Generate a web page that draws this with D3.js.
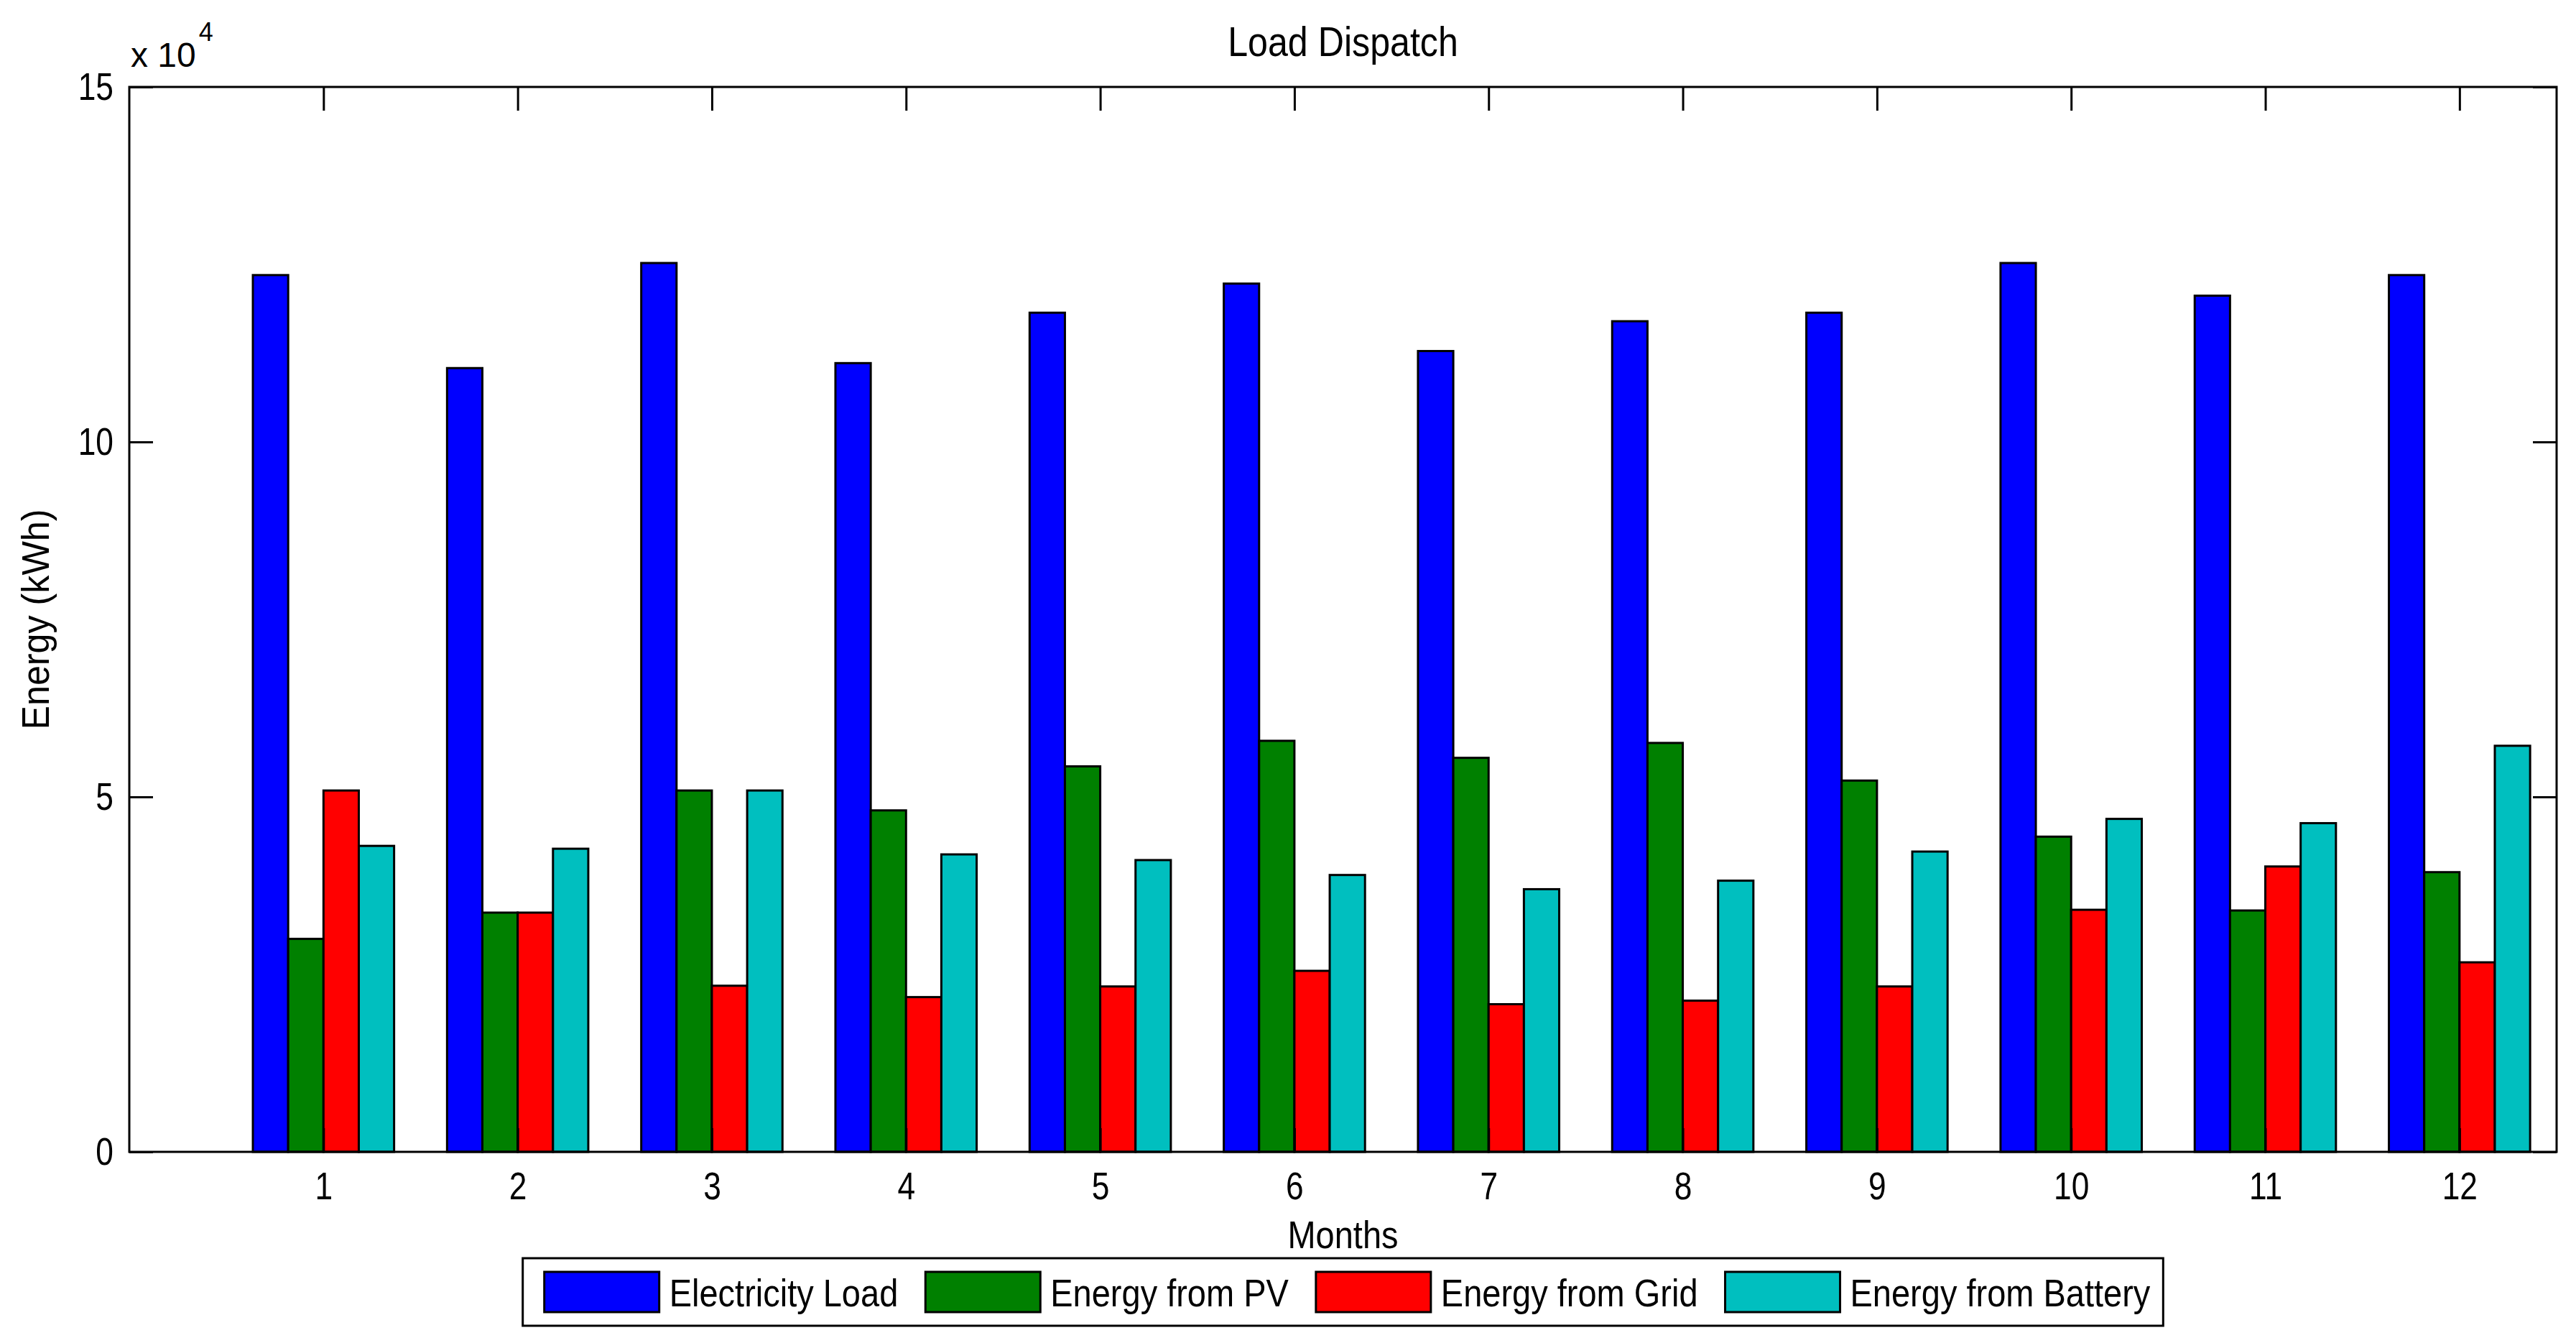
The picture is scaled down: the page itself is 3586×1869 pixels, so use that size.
<!DOCTYPE html>
<html>
<head>
<meta charset="utf-8">
<script src="https://cdn.jsdelivr.net/npm/d3@7"></script>
<style>
body { margin: 0; background: #fff; }
svg { display: block; background: #fff; }
text { font-family: "Liberation Sans", Arial, sans-serif; fill: #000; }
</style>
</head>
<body>
<svg id="chart"></svg>
<script>
const size = {w: 3586, h: 1869};
const margin = {t: 121, r: 27, b: 266, l: 180};

// data (kWh)
const months = [1, 2, 3, 4, 5, 6, 7, 8, 9, 10, 11, 12];
const seriesNames = ['Electricity Load', 'Energy from PV', 'Energy from Grid', 'Energy from Battery'];
const seriesColors = ['#0000ff', '#008000', '#ff0000', '#00bfbf'];
const electricityLoad = [123500, 110400, 125200, 111100, 118200, 122300, 112800, 117000, 118200, 125200, 120600, 123500];
const energyPV = [30000, 33700, 50900, 48100, 54300, 57900, 55500, 57600, 52300, 44400, 34000, 39400];
const energyGrid = [50900, 33700, 23400, 21800, 23300, 25500, 20800, 21300, 23300, 34100, 40200, 26700];
const energyBattery = [43100, 42700, 50900, 41900, 41100, 39000, 37000, 38200, 42300, 46900, 46300, 57200];
const yTicks = [0, 50000, 100000, 150000];

const series = [electricityLoad, energyPV, energyGrid, energyBattery];

const svg = d3.select('svg#chart')
    .attr('width', size.w)
    .attr('height', size.h);

const w = size.w - margin.l - margin.r;
const h = size.h - margin.t - margin.b;

const g = svg.append('g')
    .attr('transform', `translate(${margin.l}, ${margin.t})`);

// the matlab font is narrower than anything installed, so squeeze the text
const squeeze = 0.87;
function condense(sel, k) {
    sel.each(function() {
        const len = this.getComputedTextLength();
        if (len > 0) {
            d3.select(this)
                .attr('textLength', len * (k || squeeze))
                .attr('lengthAdjust', 'spacingAndGlyphs');
        }
    });
}

const x = d3.scaleLinear().domain([0, 12.5]).range([0, w]);
const y = d3.scaleLinear().domain([0, 150000]).range([h, 0]);

// matlab style grouped bars
const groupWidth = Math.min(0.8, seriesNames.length / (seriesNames.length + 1.5));
const inner = d3.scaleBand()
    .domain(d3.range(seriesNames.length))
    .range([-groupWidth / 2, groupWidth / 2]);

const bars = [];
series.forEach((vals, si) => {
    vals.forEach((v, mi) => bars.push({s: si, month: months[mi], value: v}));
});

g.append('g')
    .selectAll('rect')
    .data(bars)
    .join('rect')
    .attr('x', d => x(d.month + inner(d.s)))
    .attr('width', d => x(inner.bandwidth()) - x(0))
    .attr('y', d => y(d.value))
    .attr('height', d => y(0) - y(d.value))
    .attr('fill', d => seriesColors[d.s])
    .attr('stroke', '#000')
    .attr('stroke-width', 3);

// axes, ticks pointing inward
const tickLen = 33;
const fontSize = 54;

const styleAxis = sel => {
    sel.select('.domain').remove();
    sel.selectAll('.tick line').attr('stroke', '#000').attr('stroke-width', 3);
    sel.selectAll('.tick text').style('font-size', fontSize + 'px')
        .style('font-family', '"Liberation Sans", Arial, sans-serif')
        .call(condense, 0.82);
};

g.append('g')
    .attr('transform', `translate(0, ${h})`)
    .call(d3.axisBottom(x).tickValues(months).tickSize(-tickLen).tickPadding(28))
    .call(styleAxis);

g.append('g')
    .call(d3.axisTop(x).tickValues(months).tickSize(-tickLen).tickFormat(''))
    .call(styleAxis);

g.append('g')
    .call(d3.axisLeft(y).tickValues(yTicks).tickSize(-tickLen).tickPadding(22).tickFormat(d => d / 1e4))
    .call(styleAxis);

g.append('g')
    .attr('transform', `translate(${w}, 0)`)
    .call(d3.axisRight(y).tickValues(yTicks).tickSize(-tickLen).tickFormat(''))
    .call(styleAxis);

g.append('rect')
    .attr('width', w)
    .attr('height', h)
    .attr('fill', 'none')
    .attr('stroke', '#000')
    .attr('stroke-width', 3);

// exponent label
const expo = g.append('text')
    .attr('x', 2)
    .attr('y', -28)
    .style('font-size', '48px')
    .text('x 10');
g.append('text')
    .attr('x', 2 + expo.node().getComputedTextLength() + 4)
    .attr('y', -64)
    .style('font-size', '36px')
    .text('4');

// title and axis labels
g.append('text')
    .attr('x', w / 2)
    .attr('y', -43)
    .attr('text-anchor', 'middle')
    .style('font-size', '57px')
    .text('Load Dispatch')
    .call(condense, 0.88);

g.append('text')
    .attr('x', w / 2)
    .attr('y', h + 134)
    .attr('text-anchor', 'middle')
    .style('font-size', fontSize + 'px')
    .text('Months')
    .call(condense);

g.append('text')
    .attr('transform', `translate(${68 - margin.l}, ${h / 2}) rotate(-90)`)
    .attr('text-anchor', 'middle')
    .style('font-size', fontSize + 'px')
    .text('Energy (kWh)')
    .call(condense, 0.93);

// legend
const legend = svg.append('g');
const swW = 160, swH = 56, padL = 30, padR = 18, textGap = 14, itemGap = 38, boxH = 94;
let cx = padL;
seriesNames.forEach((name, i) => {
    legend.append('rect')
        .attr('x', cx).attr('y', (boxH - swH) / 2)
        .attr('width', swW).attr('height', swH)
        .attr('fill', seriesColors[i])
        .attr('stroke', '#000').attr('stroke-width', 3);
    const t = legend.append('text')
        .attr('x', cx + swW + textGap)
        .attr('y', boxH / 2 + 20)
        .style('font-size', fontSize + 'px')
        .text(name)
        .call(condense);
    cx += swW + textGap + (+t.attr('textLength')) + itemGap;
});
const boxW = cx - itemGap + padR;
legend.insert('rect', ':first-child')
    .attr('width', boxW).attr('height', boxH)
    .attr('fill', '#fff').attr('stroke', '#000').attr('stroke-width', 3);
legend.attr('transform', `translate(${margin.l + w / 2 - boxW / 2}, 1751)`);
</script>
</body>
</html>
